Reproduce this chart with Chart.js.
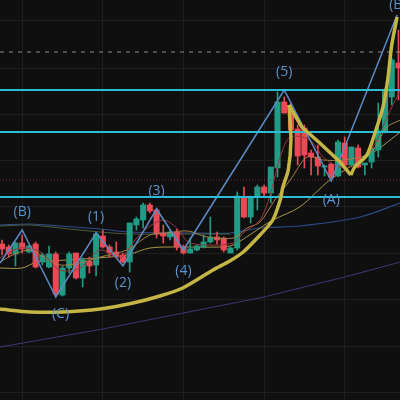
<!DOCTYPE html>
<html>
<head>
<meta charset="utf-8">
<script src="https://cdn.jsdelivr.net/npm/chart.js@4"></script>
<style>
  html, body { margin: 0; padding: 0; background: #0f0f10; }
  canvas { display: block; }
</style>
</head>
<body>
<canvas id="chart" width="400" height="400"></canvas>
<script>
// candles, one entry per bar
const candleOpen = [156,153,146,157,148,156,138,133,146,105,132,147,122,139,135,164,153,148,145,138,175,180,195,190,167,163,168,153,147,150,153,158,163,162,147,152,203,183,203,213,207,232,298,289,271,272,247,243,233,236,224,257,235,252,235,238,250,269,303,337];
const candleHigh = [160,155,158,165,155,158,147,154,148,134,148,147,142,143,168,170,155,158,147,177,183,197,197,192,175,170,171,155,162,155,165,183,168,163,153,208,213,204,215,215,233,308,303,297,275,275,250,255,235,237,260,263,253,255,237,252,297,312,342,370];
const candleLow = [145,143,134,147,147,132,135,132,104,104,127,121,113,127,124,152,143,143,137,128,170,172,187,162,157,160,150,146,147,149,152,157,156,148,147,150,182,177,190,203,197,223,287,243,235,232,225,225,224,222,223,234,233,232,225,232,243,267,295,300];
const candleClose = [151,146,157,151,154,133,145,146,106,132,146,122,140,134,166,153,147,144,138,177,181,195,189,166,164,168,153,147,151,154,158,163,160,150,152,204,183,203,213,207,233,298,287,270,244,245,243,234,234,223,258,235,253,233,237,252,269,310,340,332];

// moving averages, read at a handful of bars
const fastX = [-0.3,2.7,5.7,8.6,11.6,14.6,17.6,19.8,21.6,24,26,27.7,30.5,34.4,35.9,38.4,39.9,41.4,42.9,45.8,47.8,50.3,53.3,55.8,57.3,59.3];
const fastY = [142,152,148,130,132,150,142,160,172,180,172,158,155,157,167,180,205,243,263,260,243,233,237,260,283,310];
const midX = [-0.3,1.6,4.2,6.4,8.6,11.6,14.6,18.6,22,24.6,27.7,30.5,34.4,36.5,38.4,40.6,42.9,45.4,47.8,50.8,54.8,57.3,59.3];
const midY = [138,145,150,142,135,137,143,150,165,167,169,163,162,172,178,200,220,243,240,240,247,273,280];
const slowX = [-0.3,3,5.2,9.7,14.1,18.6,22,26.5,32.4,34.4,38.4,40.3,44.3,48.8,55.8,59.3];
const slowY = [132,132,138,140,142,145,152,153,153,155,172,180,193,220,250,268];
const blueX = [-0.3,4.2,8.6,14.6,19,28,34,38.4,44.3,53.3,59.3];
const blueY = [175,176,174,171,168,167,167,172,174,183,197];
const oliveX = [-0.3,4.2,8.6,14.6,19,28,34];
const oliveY = [174,175,172,168,166,166,166];
const purpleX = [-0.3,15,27,39,51,59.3];
const purpleY = [53,71,87,103,123,138];

// elliott wave pivots
const waveX = [-0.3,3,8,14,18,23,27,42,49,58.8];
const waveY = [137,170,103,167,134,191,150,310,219,385];
const waveNames = ['(B)','(C)','(1)','(2)','(3)','(4)','(5)','(A)','(B)'];
const nameX = [3,8.7,14,18,23,27,42,49,58.9];
const nameY = [188,86,183,117,209,129,328,200,395];

// hand drawn yellow curve
const curveAX = [-0.3,4.2,8.9,14.6,19.5,23.5,26.9,31.4,33.9,35.9,38.4,40.3,41.4,41.8,42.6,43,42.7];
const curveAY = [91,88,88,91,97,104,112,130,139,148,165,180,200,213,230,260,295];
const curveBX = [42.7,44.6,47.3,50.3,51.9];
const curveBY = [295,273,257,238,225];
const curveCX = [51.9,52.5,54.3,55.5,56.7,57.4,58,58.8];
const curveCY = [225,233,245,267,293,320,355,383];

// horizontal levels
const spanX = [-0.3,59.3];
const cyanLevels = [310,268,203];
const dashLevel = 348;
const dotLevel = 220;

const gridX = [3,15,27,39,51];
const gridY = [8,54,101,147,194,240,286,332,379];

const GREEN = '#1f9c83';
const RED = '#ea4a55';

const bars = candleOpen.map((o, i) => i);
const candleColors = bars.map(i => candleClose[i] >= candleOpen[i] ? GREEN : RED);

const pairs = (xs, ys) => xs.map((x, i) => ({ x: x, y: ys[i] }));

const lineSet = (xs, ys, color, width, order, extra) => Object.assign({
    type: 'line',
    data: pairs(xs, ys),
    borderColor: color,
    borderWidth: width,
    pointRadius: 0,
    fill: false,
    order: order
}, extra || {});

const datasets = [
    lineSet(purpleX, purpleY, '#3f3878', 1, 90),
    lineSet(blueX, blueY, '#2c4a86', 1.2, 89, { tension: 0.3 }),
    lineSet(oliveX, oliveY, '#4d5a3a', 1, 88, { tension: 0.3 }),
    lineSet(slowX, slowY, '#a8984a', 1, 87, { tension: 0.3 }),
    {
        type: 'bar',
        data: bars.map(i => ({ x: i, y: [candleLow[i], candleHigh[i]] })),
        backgroundColor: candleColors,
        barThickness: 1,
        grouped: false,
        order: 60
    },
    {
        type: 'bar',
        data: bars.map(i => ({ x: i, y: [candleOpen[i], candleClose[i]] })),
        backgroundColor: candleColors,
        barThickness: 5.4,
        grouped: false,
        order: 59
    },
    lineSet(midX, midY, '#a67f45', 1, 50, { tension: 0.3 }),
    lineSet(fastX, fastY, '#96393c', 1, 49, { tension: 0.3 }),
    lineSet(spanX, [dotLevel, dotLevel], '#6e3038', 1, 40, { borderDash: [1, 2] }),
    lineSet(spanX, [dashLevel, dashLevel], '#8c8c8c', 1, 39, { borderDash: [4, 5] }),
    lineSet(waveX, waveY, '#5b8cc4', 1.5, 20),
    lineSet(spanX, [cyanLevels[0], cyanLevels[0]], '#2cbcd6', 2, 19),
    lineSet(spanX, [cyanLevels[1], cyanLevels[1]], '#2cbcd6', 2, 18),
    lineSet(spanX, [cyanLevels[2], cyanLevels[2]], '#2cbcd6', 2, 17),
    lineSet(curveAX, curveAY, '#c4b545', 3.5, 10, { tension: 0.25 }),
    lineSet(curveBX, curveBY, '#c4b545', 3.5, 9),
    lineSet(curveCX, curveCY, '#c4b545', 3.5, 8, { tension: 0.25 })
];

// wave names sit on the price scale, so they move with it
const waveLabels = {
    id: 'waveLabels',
    afterDatasetsDraw(chart) {
        const { ctx, scales } = chart;
        ctx.save();
        ctx.font = '14px "Open Sans"';
        ctx.fillStyle = '#5b93cc';
        ctx.textAlign = 'center';
        ctx.textBaseline = 'middle';
        waveNames.forEach((name, i) => {
            ctx.fillText(name, scales.x.getPixelForValue(nameX[i]), scales.y.getPixelForValue(nameY[i]));
        });
        ctx.restore();
    }
};

new Chart(document.querySelector('#chart'), {
    data: { datasets: datasets },
    plugins: [waveLabels],
    options: {
        responsive: false,
        animation: false,
        layout: { padding: 0 },
        plugins: { legend: { display: false }, tooltip: { enabled: false } },
        scales: {
            x: {
                type: 'linear',
                offset: false,
                min: -0.3,
                max: 59.23,
                afterBuildTicks: (axis) => { axis.ticks = gridX.map(v => ({ value: v })); },
                ticks: { display: false },
                grid: { color: '#1e1e20', lineWidth: 1, drawTicks: false, offset: false },
                border: { display: false }
            },
            y: {
                type: 'linear',
                min: 0,
                max: 400,
                afterBuildTicks: (axis) => { axis.ticks = gridY.map(v => ({ value: v })); },
                ticks: { display: false },
                grid: { color: '#1e1e20', lineWidth: 1, drawTicks: false },
                border: { display: false }
            }
        }
    }
});
</script>
</body>
</html>
